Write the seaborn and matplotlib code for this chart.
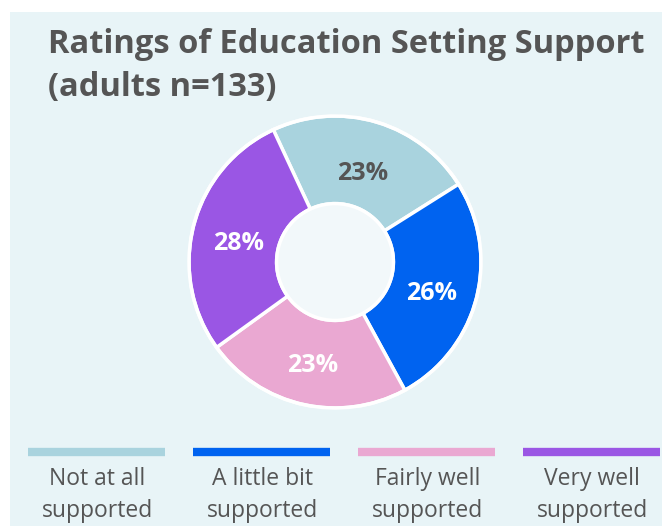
import matplotlib
matplotlib.use("Agg")
import matplotlib.pyplot as plt
import matplotlib.patches as mpatches
import seaborn as sns

# chart data
categories = ["Not at all\nsupported", "A little bit\nsupported", "Fairly well\nsupported", "Very well\nsupported"]
shares = [23, 26, 23, 28]
slice_colors = ["#a9d3de", "#0063f0", "#eaa8d2", "#9a56e4"]
label_colors = ["#555555", "white", "white", "white"]

title = "Ratings of Education Setting Support\n(adults n=133)"

# style
sns.set_theme(style="white")
plt.rcParams["font.family"] = ["Open Sans", "DejaVu Sans"]
palette = sns.color_palette(slice_colors)

W, H = 662, 526
fig = plt.figure(figsize=(W / 100, H / 100), dpi=100)
fig.patch.set_facecolor("white")

# light panel behind everything
bg = fig.add_axes([0, 0, 1, 1], zorder=-5)
bg.set_xlim(0, W)
bg.set_ylim(0, H)
bg.axis("off")
bg.add_patch(mpatches.Rectangle((10, 0), W - 10, H - 12, facecolor="#e8f4f7", edgecolor="none"))

# title
bg.text(48, H - 28, title, ha="left", va="top", fontsize=23.5, fontweight="bold",
        color="#555555", linespacing=1.4)

# donut
cx, cy, r = 335, 264, 146
ax = fig.add_axes([(cx - r) / W, (cy - r) / H, 2 * r / W, 2 * r / H])
wedges, texts, autotexts = ax.pie(
    shares, colors=palette, startangle=115, counterclock=False,
    autopct="%d%%", pctdistance=0.68,
    wedgeprops=dict(width=0.6, edgecolor="white", linewidth=2.5),
    textprops=dict(fontsize=18, fontweight="bold"),
)
# nudge percentage labels a little lower, like the reference
for t, c in zip(autotexts, label_colors):
    t.set_color(c)
    t.set_y(t.get_position()[1] - 0.045)
ax.add_patch(mpatches.Circle((0, 0), 0.4, facecolor="#f2f8fa", edgecolor="white", linewidth=2.5))
ax.add_patch(mpatches.Circle((0, 0), 1.0, facecolor="none", edgecolor="white", linewidth=2.5))
ax.set_xlim(-1.0, 1.0)
ax.set_ylim(-1.0, 1.0)
ax.set_aspect("equal")
ax.axis("off")

# legend: coloured bar with two-line label below (one slot = 165 px)
slot = 165
lax = fig.add_axes([28 / W, 0, (W - 28) / W, (H - 430) / H])
lax.set_xlim(0, (W - 28) / slot)
lax.set_ylim(0, H - 430)
lax.axis("off")
for i, (name, col) in enumerate(zip(categories, palette)):
    lax.plot([i, i + 0.83], [H - 452, H - 452], color=col, linewidth=6, solid_capstyle="butt")
    lax.text(i + 0.42, H - 495, name, ha="center", va="center", fontsize=16.5,
             color="#555555", linespacing=1.4)

fig.savefig("out.png", dpi=100, facecolor=fig.get_facecolor())
